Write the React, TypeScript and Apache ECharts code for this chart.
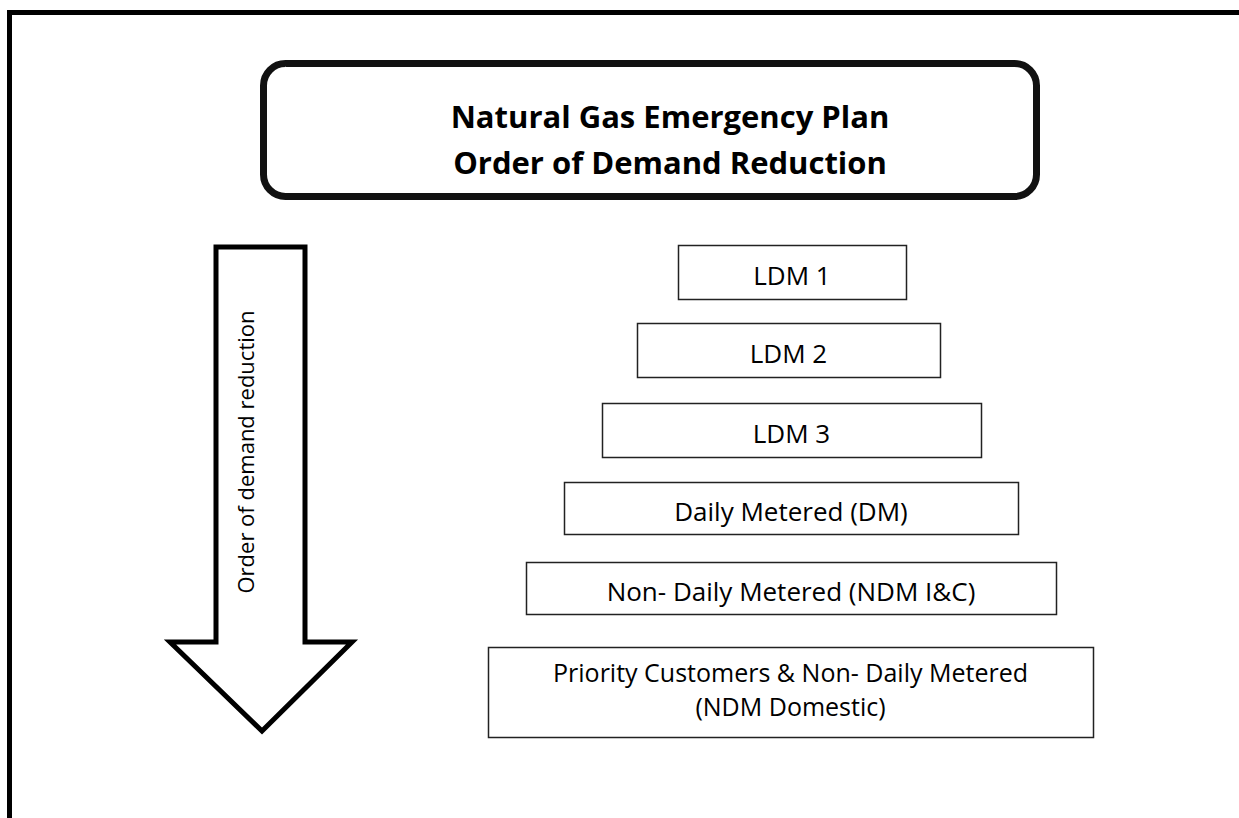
import React, { useEffect, useRef } from "react";
import * as echarts from "echarts";

const titleLines = ["Natural Gas Emergency Plan", "Order of Demand Reduction"];
const arrowLabel = "Order of demand reduction";
const tierLabels = [
  "LDM 1",
  "LDM 2",
  "LDM 3",
  "Daily Metered (DM)",
  "Non- Daily Metered (NDM I&C)",
  "Priority Customers & Non- Daily Metered\n(NDM Domestic)",
];

// layout in pixels: [left, top, right, bottom]
const tierBoxes = [
  [678, 245, 906, 299],
  [637, 323, 940, 377],
  [602, 403, 981, 457],
  [564, 482, 1018, 534],
  [526, 562, 1056, 614],
  [488, 647, 1093, 737],
];

const FONT = "'Open Sans', 'Noto Sans', sans-serif";

export default function App() {
  const ref = useRef<HTMLDivElement>(null);
  useEffect(() => {
    if (!ref.current) return;
    const chart = echarts.init(ref.current, null, { renderer: "svg" });
    const elements: any[] = [];
    // outer frame
    elements.push({
      type: "rect",
      shape: { x: 9.5, y: 12.5, width: 1400, height: 1000 },
      style: { fill: "none", stroke: "#000", lineWidth: 5 },
    });
    // title box
    elements.push({
      type: "rect",
      shape: { x: 263.5, y: 63.5, width: 773, height: 133, r: 22 },
      style: { fill: "#fff", stroke: "#111", lineWidth: 7 },
    });
    titleLines.forEach((t, i) => {
      elements.push({
        type: "text",
        x: 670,
        y: 116 + i * 46,
        style: {
          text: t,
          fill: "#000",
          font: `bold 31px ${FONT}`,
          align: "center",
          verticalAlign: "middle",
        },
      });
    });
    // arrow
    elements.push({
      type: "polygon",
      shape: {
        points: [
          [216, 247],
          [305, 247],
          [305, 642],
          [352, 642],
          [262, 731],
          [170, 642],
          [216, 642],
        ],
      },
      style: { fill: "#fff", stroke: "#000", lineWidth: 5, lineJoin: "miter" },
    });
    elements.push({
      type: "text",
      x: 245,
      y: 452,
      rotation: Math.PI / 2,
      style: {
        text: arrowLabel,
        fill: "#000",
        font: `22px ${FONT}`,
        align: "center",
        verticalAlign: "middle",
      },
    });
    // tier boxes
    tierLabels.forEach((lab, i) => {
      const [l, t, r, b] = tierBoxes[i];
      elements.push({
        type: "rect",
        shape: { x: l + 0.5, y: t + 0.5, width: r - l, height: b - t },
        style: { fill: "#fff", stroke: "#222", lineWidth: 1.5 },
      });
      const lines = lab.split("\n");
      const lh = 34.5;
      const cy = (t + b) / 2 + 3 - ((lines.length - 1) * lh) / 2 - (lines.length > 1 ? 6 : 0);
      lines.forEach((ln, j) => {
        elements.push({
          type: "text",
          x: (l + r) / 2,
          y: cy + j * lh,
          style: {
            text: ln,
            fill: "#000",
            font: `${lines.length > 1 ? 25 : 26}px ${FONT}`,
            align: "center",
            verticalAlign: "middle",
          },
        });
      });
    });
    chart.setOption({
      animation: false,
      backgroundColor: "#fff",
      graphic: { elements },
    });
    return () => chart.dispose();
  }, []);
  return (
    <div
      ref={ref}
      style={{ position: "fixed", left: 0, top: 0, width: 1239, height: 818, background: "#fff" }}
    />
  );
}
